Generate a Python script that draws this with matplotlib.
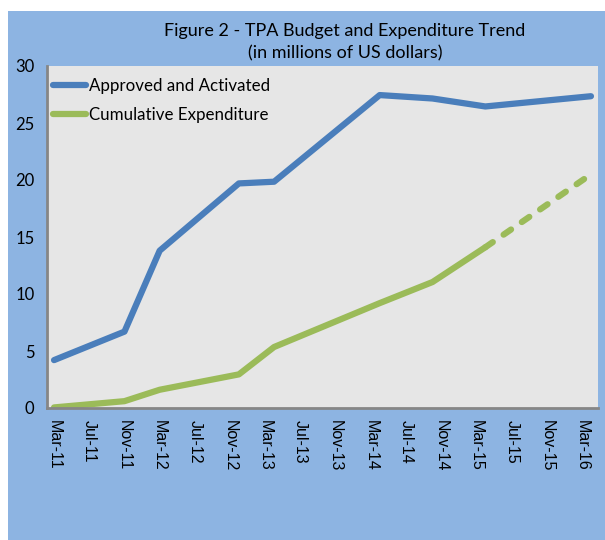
import numpy as np
import pandas as pd
import matplotlib.pyplot as plt
from matplotlib.patches import Rectangle

# TPA budget vs expenditure, millions of US dollars
tick_labels = ['Mar-11', 'Jul-11', 'Nov-11', 'Mar-12', 'Jul-12', 'Nov-12', 'Mar-13', 'Jul-13',
               'Nov-13', 'Mar-14', 'Jul-14', 'Nov-14', 'Mar-15', 'Jul-15', 'Nov-15', 'Mar-16']

approved_dates = ['Mar-11', 'Nov-11', 'Mar-12', 'Dec-12', 'Apr-13', 'Apr-14', 'Oct-14', 'Apr-15', 'Apr-16']
approved = [4.2, 6.7, 13.8, 19.7, 19.85, 27.45, 27.15, 26.45, 27.35]

spent_dates = ['Mar-11', 'Nov-11', 'Mar-12', 'Dec-12', 'Apr-13', 'Apr-14', 'Oct-14', 'Apr-15']
spent = [0.05, 0.6, 1.6, 2.95, 5.35, 9.2, 11.05, 14.1]

projected_dates = ['Apr-15', 'Apr-16']
projected = [14.1, 20.5]


def to_month(labels):
    d = pd.to_datetime(labels, format='%b-%y')
    return (d.year - 2011) * 12 + d.month - 3


sky = '#8DB4E2'
blue = '#4A7EBB'
green = '#9BBB59'

fig = plt.figure(figsize=(6.05, 5.4), dpi=100, facecolor='white')
fig.patches.append(Rectangle((8 / 605, 0), 1, 1 - 11 / 540, transform=fig.transFigure,
                             facecolor=sky, edgecolor='none', zorder=-5))

ax = fig.add_axes([47 / 605, 132 / 540, 551 / 605, 342 / 540])
ax.set_facecolor('#E6E6E6')

ax.plot(to_month(approved_dates), approved, color=blue, lw=4.5,
        solid_capstyle='round', label='Approved and Activated')
ax.plot(to_month(spent_dates), spent, color=green, lw=4.5,
        solid_capstyle='round', label='Cumulative Expenditure')
ax.plot(to_month(projected_dates), projected, color=green, lw=4.5,
        linestyle=(0, (1.45, 2.1)), dash_capstyle='round')

ax.set_xlim(-0.8, 61.8)
ax.set_ylim(0, 30)
ax.set_yticks(np.arange(0, 31, 5))
ax.set_xticks(to_month(tick_labels))
ax.set_xticklabels(tick_labels, rotation=-90, fontsize=11.5, family='Liberation Sans')
for t in ax.get_yticklabels():
    t.set_family('Lato')
    t.set_fontsize(12)
ax.tick_params(axis='both', length=0)
ax.tick_params(axis='y', pad=9)
ax.tick_params(axis='x', pad=9)

for s in ['top', 'right']:
    ax.spines[s].set_visible(False)
for s in ['left', 'bottom']:
    ax.spines[s].set_color('#868686')
    ax.spines[s].set_linewidth(2)

ax.legend(loc='upper left', bbox_to_anchor=(0, 1 - 6 / 342), frameon=False,
          handlelength=2.0, handletextpad=0.15, borderaxespad=0, borderpad=0.33,
          labelspacing=0.78, prop={'family': 'Lato', 'size': 12.2})

fig.text(0.57, 1 - 42 / 540, 'Figure 2 - TPA Budget and Expenditure Trend\n(in millions of US dollars)',
         ha='center', va='center', family='Lato', fontsize=13, linespacing=1.5)

fig.savefig('out.png', dpi=100, facecolor='white')
